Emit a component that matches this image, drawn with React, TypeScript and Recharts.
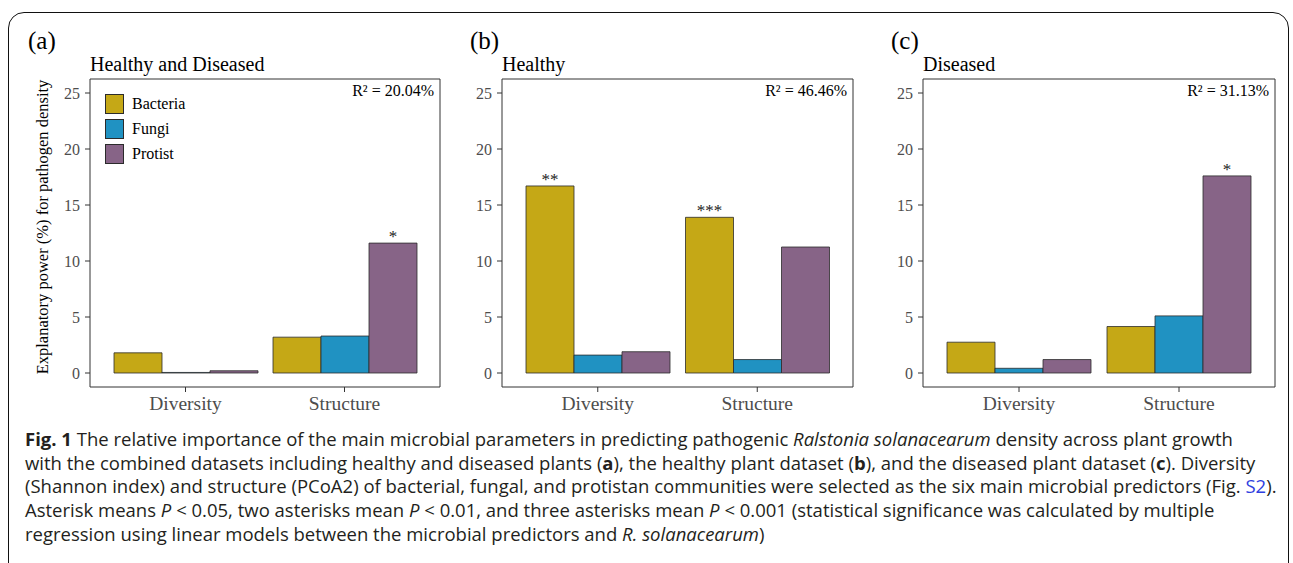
import { BarChart, Bar, XAxis, YAxis, LabelList } from 'recharts'

const categories = ['Diversity', 'Structure']
const yTicks = [0, 5, 10, 15, 20, 25]
const yDomain: [number, number] = [-1.25, 26.25]

const series = [
  { key: 'bacteria', name: 'Bacteria', color: '#C5A816' },
  { key: 'fungi', name: 'Fungi', color: '#2092C2' },
  { key: 'protist', name: 'Protist', color: '#876487' },
]

// (a) healthy and diseased
const allBacteria = [1.8, 3.2]
const allFungi = [0.05, 3.3]
const allProtist = [0.2, 11.6]
const allBacteriaSig = ['', '']
const allFungiSig = ['', '']
const allProtistSig = ['', '*']

// (b) healthy
const healthyBacteria = [16.7, 13.9]
const healthyFungi = [1.6, 1.2]
const healthyProtist = [1.9, 11.25]
const healthyBacteriaSig = ['**', '***']
const healthyFungiSig = ['', '']
const healthyProtistSig = ['', '']

// (c) diseased
const diseasedBacteria = [2.75, 4.15]
const diseasedFungi = [0.42, 5.1]
const diseasedProtist = [1.2, 17.6]
const diseasedBacteriaSig = ['', '']
const diseasedFungiSig = ['', '']
const diseasedProtistSig = ['', '*']

const serif = '"Liberation Serif", "Times New Roman", serif'
const sans = '"Open Sans", "Noto Sans", sans-serif'
const axisGrey = '#333333'
const tickGrey = '#4d4d4d'

interface PanelProps {
  tag: string
  title: string
  r2: string
  boxLeft: number
  boxWidth: number
  bacteria: number[]
  fungi: number[]
  protist: number[]
  sig: string[][]
  legend?: boolean
  yLabel?: string
}

function Panel({ tag, title, r2, boxLeft, boxWidth, bacteria, fungi, protist, sig, legend, yLabel }: PanelProps) {
  const rows = categories.map((cat, i) => ({
    cat,
    bacteria: bacteria[i],
    fungi: fungi[i],
    protist: protist[i],
    bacteriaSig: sig[0][i],
    fungiSig: sig[1][i],
    protistSig: sig[2][i],
  }))
  const chartLeft = boxLeft - 90

  return (
    <>
      <div style={{ position: 'absolute', left: boxLeft - (legend ? 62 : 32), top: 28, fontFamily: serif, fontSize: 25, lineHeight: '25px' }}>
        {tag}
      </div>
      <div style={{ position: 'absolute', left: boxLeft, top: 54, fontFamily: serif, fontSize: 20, lineHeight: '20px' }}>
        {title}
      </div>
      <div style={{ position: 'absolute', left: chartLeft, top: 0 }}>
        <BarChart
          width={boxWidth + 100}
          height={420}
          data={rows}
          margin={{ top: 78, right: 9, bottom: 32, left: 89 }}
          barCategoryGap={8}
          barGap={0}
        >
          <XAxis
            xAxisId="x"
            dataKey="cat"
            height={1}
            interval={0}
            padding={{ left: 16, right: 16 }}
            axisLine={{ stroke: axisGrey }}
            tickLine={{ stroke: axisGrey }}
            tickSize={5}
            tickMargin={4}
            tick={{ fill: tickGrey, fontSize: 19.5, fontFamily: serif }}
          />
          <XAxis
            xAxisId="top"
            orientation="top"
            dataKey="cat"
            height={1}
            tick={false}
            tickLine={false}
            axisLine={{ stroke: axisGrey }}
          />
          <YAxis
            yAxisId="y"
            width={1}
            type="number"
            domain={yDomain}
            ticks={yTicks}
            allowDataOverflow
            axisLine={{ stroke: axisGrey }}
            tickLine={{ stroke: axisGrey }}
            tickSize={5}
            tickMargin={5}
            tick={{ fill: tickGrey, fontSize: 16, fontFamily: serif }}
          />
          <YAxis
            yAxisId="right"
            orientation="right"
            width={1}
            type="number"
            domain={yDomain}
            allowDataOverflow
            tick={false}
            tickLine={false}
            axisLine={{ stroke: axisGrey }}
          />
          {series.map((s) => (
            <Bar
              key={s.key}
              xAxisId="x"
              yAxisId="y"
              dataKey={s.key}
              name={s.name}
              fill={s.color}
              stroke="#2b2b2b"
              strokeWidth={0.8}
              isAnimationActive={false}
            >
              <LabelList
                dataKey={`${s.key}Sig`}
                position="top"
                offset={1}
                style={{ fill: '#222', fontSize: 17, fontFamily: serif }}
              />
            </Bar>
          ))}
        </BarChart>
      </div>
      <div
        style={{
          position: 'absolute',
          left: boxLeft,
          width: boxWidth - 6,
          top: 83,
          textAlign: 'right',
          fontFamily: serif,
          fontSize: 16,
          lineHeight: '16px',
        }}
      >
        {r2}
      </div>
      {legend &&
        series.map((s, i) => (
          <div key={s.key} style={{ position: 'absolute', left: boxLeft + 15, top: 94 + i * 25, display: 'flex', alignItems: 'center' }}>
            <div style={{ width: 17, height: 18, background: s.color, border: '1px solid #2b2b2b' }} />
            <span style={{ marginLeft: 8, fontFamily: serif, fontSize: 16 }}>{s.name}</span>
          </div>
        ))}
      {yLabel && (
        <div
          style={{
            position: 'absolute',
            left: 43,
            top: 227,
            transform: 'translate(-50%, -50%) rotate(-90deg)',
            whiteSpace: 'nowrap',
            fontFamily: serif,
            fontSize: 16.5,
            lineHeight: '18px',
          }}
        >
          {yLabel}
        </div>
      )}
    </>
  )
}

const lineStyle = { whiteSpace: 'nowrap' as const, height: 23.7 }

export default function App() {
  return (
    <div style={{ position: 'absolute', left: 0, top: 0, width: 1293, height: 563, overflow: 'hidden', background: '#fff', color: '#000' }}>
      <div
        style={{
          position: 'absolute',
          left: 8,
          top: 12,
          width: 1279,
          height: 600,
          border: '1.5px solid #111',
          borderRadius: 16,
        }}
      />
      <Panel
        tag="(a)"
        title="Healthy and Diseased"
        r2="R² = 20.04%"
        boxLeft={90}
        boxWidth={350}
        bacteria={allBacteria}
        fungi={allFungi}
        protist={allProtist}
        sig={[allBacteriaSig, allFungiSig, allProtistSig]}
        legend
        yLabel="Explanatory power (%) for pathogen density"
      />
      <Panel
        tag="(b)"
        title="Healthy"
        r2="R² = 46.46%"
        boxLeft={502}
        boxWidth={351}
        bacteria={healthyBacteria}
        fungi={healthyFungi}
        protist={healthyProtist}
        sig={[healthyBacteriaSig, healthyFungiSig, healthyProtistSig]}
      />
      <Panel
        tag="(c)"
        title="Diseased"
        r2="R² = 31.13%"
        boxLeft={923}
        boxWidth={352}
        bacteria={diseasedBacteria}
        fungi={diseasedFungi}
        protist={diseasedProtist}
        sig={[diseasedBacteriaSig, diseasedFungiSig, diseasedProtistSig]}
      />
      <div
        style={{
          position: 'absolute',
          left: 25,
          top: 427,
          fontFamily: sans,
          fontSize: 18.5,
          lineHeight: '23.7px',
          color: '#231f20',
        }}
      >
        <div style={lineStyle}>
          <b>Fig. 1</b> The relative importance of the main microbial parameters in predicting pathogenic{' '}
          <i>Ralstonia solanacearum</i> density across plant growth
        </div>
        <div style={lineStyle}>
          with the combined datasets including healthy and diseased plants (<b>a</b>), the healthy plant dataset (<b>b</b>), and the
          diseased plant dataset (<b>c</b>). Diversity
        </div>
        <div style={lineStyle}>
          (Shannon index) and structure (PCoA2) of bacterial, fungal, and protistan communities were selected as the six main
          microbial predictors (Fig. <span style={{ color: '#2f3fe0' }}>S2</span>).
        </div>
        <div style={lineStyle}>
          Asterisk means <i>P</i> &lt; 0.05, two asterisks mean <i>P</i> &lt; 0.01, and three asterisks mean <i>P</i> &lt; 0.001
          (statistical significance was calculated by multiple
        </div>
        <div style={lineStyle}>
          regression using linear models between the microbial predictors and <i>R. solanacearum</i>)
        </div>
      </div>
    </div>
  )
}
